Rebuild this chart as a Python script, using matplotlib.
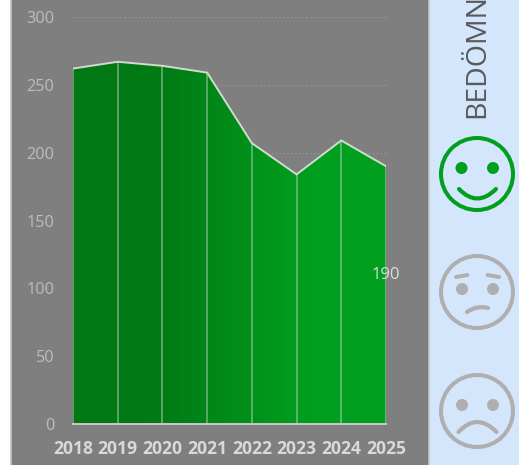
import numpy as np
import matplotlib
matplotlib.use("Agg")
import matplotlib.pyplot as plt
from matplotlib.patches import Rectangle, Circle, PathPatch, Polygon
from matplotlib.path import Path
from matplotlib.colors import LinearSegmentedColormap

years = [2018, 2019, 2020, 2021, 2022, 2023, 2024, 2025]
values = [262, 267, 264, 259, 207, 184, 209, 190]
yticks = [0, 50, 100, 150, 200, 250, 300]
label_text = "190"
side_title = "BEDÖMNING"

W, H = 519, 465
plt.rcParams['font.family'] = ['Open Sans', 'DejaVu Sans']
fig = plt.figure(figsize=(W / 100, H / 100), dpi=100, facecolor='white')

# Background panels in pixel coordinates
bg = fig.add_axes([0, 0, 1, 1], zorder=0)
bg.set_xlim(0, W); bg.set_ylim(H, 0); bg.axis('off')
bg.add_patch(Rectangle((11, -2), 418, H + 4, fc='#7f7f7f', ec='#c4c4c4', lw=1.2))
bg.add_patch(Rectangle((429.7, -2), 95, H + 4, fc='#d3e6fc', ec='none'))

# Chart
ax = fig.add_axes([73 / W, 1 - 424 / H, (386 - 73) / W, (424 - 17) / H], zorder=1)
ax.patch.set_alpha(0)
ax.set_xlim(years[0], years[-1]); ax.set_ylim(0, 300)
for s in ax.spines.values():
    s.set_visible(False)
ax.spines['bottom'].set_visible(True)
ax.spines['bottom'].set_color('#c8c8c8'); ax.spines['bottom'].set_linewidth(1.4)
ax.spines['bottom'].set_zorder(6)
ax.set_yticks(yticks); ax.set_xticks(years)
ax.yaxis.grid(True, color='#9e9e9e', lw=0.8, ls=(0, (1, 2.5)))
ax.set_axisbelow(True)
ax.tick_params(length=0)
ax.tick_params(axis='y', labelsize=11.7, labelcolor='#bdbdbd', pad=13.5)
ax.tick_params(axis='x', labelsize=12.6, labelcolor='#d9d9d9', pad=11.5)
for t in ax.get_xticklabels():
    t.set_fontweight('bold')

cmap = LinearSegmentedColormap.from_list('g', ['#007914', '#00a01e'])
grad = np.array([[0.0, 0.0, 0.1, 0.35, 0.6, 0.85, 1.0, 1.0]])
im = ax.imshow(grad, extent=[years[0], years[-1], 0, 300], aspect='auto',
               cmap=cmap, vmin=0, vmax=1, interpolation='bilinear', zorder=2)
poly = Polygon(list(zip(years, values)) + [(years[-1], 0), (years[0], 0)],
               closed=True, transform=ax.transData, fc='none', ec='none')
ax.add_patch(poly)
im.set_clip_path(poly)
ax.vlines(years, 0, values, color='#e4e4e4', alpha=0.5, lw=1.1, zorder=3)
ax.plot(years, values, color='#cfdccf', lw=1.4, zorder=4, solid_joinstyle='miter')
ax.text(years[-1], 110, label_text, ha='center', va='center', fontsize=12,
        color='#dcdcdc', zorder=5, clip_on=False)

# Overlay: side title and faces in pixel coordinates
ov = fig.add_axes([0, 0, 1, 1], zorder=2)
ov.set_xlim(0, W); ov.set_ylim(H, 0); ov.axis('off')
ov.text(477, 118, side_title, rotation=90, ha='center', va='bottom', fontsize=20.5,
        color='#595959', clip_on=True)


def curve(p0, p1, p2, color, lw=3):
    ov.add_patch(PathPatch(Path([p0, p1, p2], [Path.MOVETO, Path.CURVE3, Path.CURVE3]),
                           fc='none', ec=color, lw=lw, capstyle='round'))


def face(cy, color):
    ov.add_patch(Circle((477, cy), 36, fc='none', ec=color, lw=2.9))


GREEN, GRAY = '#00a01e', '#afafaf'
face(174, GREEN)
for x in (461.5, 493):
    ov.add_patch(Circle((x, 168), 6, fc=GREEN, ec='none'))
curve((459, 189), (477, 208), (496, 189), GREEN)

face(292, GRAY)
for x in (462, 493):
    ov.add_patch(Circle((x, 289), 6, fc=GRAY, ec='none'))
ov.plot([456, 467.5], [277, 275], color=GRAY, lw=2.8, solid_capstyle='round')
ov.plot([487.5, 499], [275, 277], color=GRAY, lw=2.8, solid_capstyle='round')
curve((467, 312), (477, 305), (488, 308), GRAY)

face(411, GRAY)
for x in (462, 493):
    ov.add_patch(Circle((x, 405), 6, fc=GRAY, ec='none'))
curve((458.5, 432), (477, 412), (496.5, 432), GRAY)

fig.savefig('out.png', dpi=100)
